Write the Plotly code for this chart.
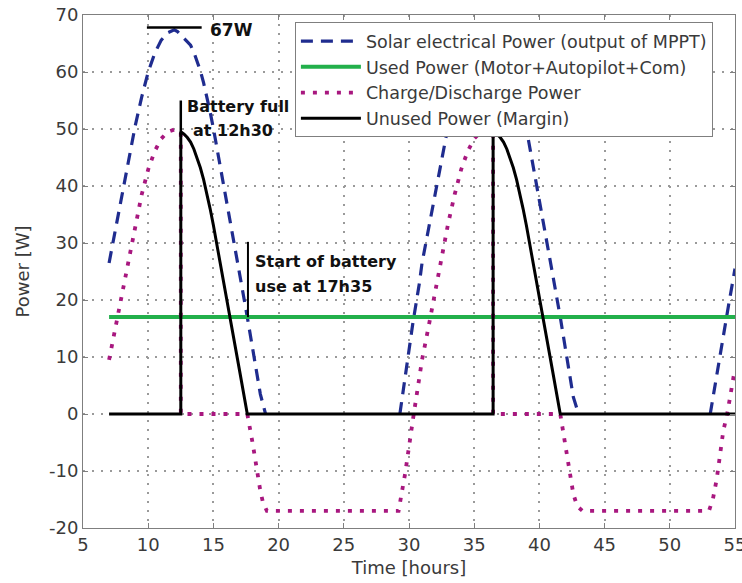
import plotly.graph_objects as go

# ---------------- data ----------------
t_solar = [7.0, 7.5, 8.0, 8.5, 9.0, 9.5, 10.0, 10.5, 11.0, 11.5, 12.0, 12.25, 12.5, 12.75, 13.0,
           13.25, 13.5, 13.75, 14.0, 14.25, 14.5, 14.75, 15.0, 15.25, 15.5, 16.0, 16.5, 17.0,
           17.6, 18.0, 18.3, 18.6, 19.0, None,
           29.3, 29.8, 30.3, 30.8, 31.0, 31.5, 32.0, 32.5, 33.0, 33.5, 34.0, 34.5, 35.0, 35.5,
           36.0, 36.25, 36.5, 36.75, 37.0, 37.25, 37.5, 37.75, 38.0, 38.25, 38.5, 38.75, 39.0,
           39.25, 39.5, 40.0, 40.5, 41.0, 41.6, 42.0, 42.3, 42.6, 43.0, None,
           53.1, 53.6, 54.1, 54.5, 55.0]
p_solar = [26.5, 32.5, 38.7, 44.8, 50.5, 55.6, 60, 63.3, 65.6, 66.9, 67.4, 67.1, 66.5, 66.1, 65.5,
           64.7, 63.5, 62.0, 60.2, 58.1, 55.7, 53.0, 50.1, 47.0, 43.9, 37.5, 31.1, 24.7,
           17, 11.8, 7.6, 3.5, 0, None,
           0, 8, 16, 23, 26.5, 32.5, 38.7, 44.8, 50.5, 55.6, 60, 63.3, 65.6, 66.9,
           67.4, 67.1, 66.5, 66.1, 65.5, 64.7, 63.5, 62.0, 60.2, 58.1, 55.7, 53.0, 50.1,
           47.0, 43.9, 37.5, 31.1, 24.7, 17, 11.5, 7, 3, 0, None,
           0, 7, 14, 19, 25.5]

t_used = [7.0, 55.0]
p_used = [17, 17]

t_charge = [7.0, 7.5, 8.0, 8.5, 9.0, 9.5, 10.0, 10.5, 11.0, 11.5, 12.0, 12.5, 12.5, 17.6, 18.0,
            18.3, 18.6, 18.8, 19.1, 29.2, 29.7, 30.3, 30.8, 31.0, 31.5, 32.0, 32.5, 33.0, 33.5,
            34.0, 34.5, 35.0, 35.5, 36.0, 36.45, 36.45, 41.6, 42.0, 42.3, 42.6, 42.9, 43.3,
            53.0, 53.3, 53.6, 54.1, 54.4, 54.6, 55.0]
p_charge = [9.5, 15.3, 21.5, 27.7, 33.4, 38.5, 42.9, 46.1, 48.3, 49.5, 49.9, 49.5, 0, 0, -5,
            -9.4, -13.5, -15.5, -17, -17, -10.5, -1, 6, 9.5, 15.3, 21.5, 27.7, 33.4, 38.5,
            42.9, 46.1, 48.3, 49.5, 49.9, 49.5, 0, 0, -5.5, -10, -14, -16.2, -17,
            -17, -15, -11.4, -3, 0, 3, 8]

t_unused = [7.0, 12.5, 12.5, 12.75, 13.0, 13.25, 13.5, 13.75, 14.0, 14.25, 14.5, 14.75, 15.0,
            15.25, 15.5, 16.0, 16.5, 17.0, 17.6,
            36.45, 36.45, 36.75, 37.0, 37.25, 37.5, 37.75, 38.0, 38.25, 38.5, 38.75, 39.0,
            39.25, 39.5, 40.0, 40.5, 41.0, 41.6, 55.0]
p_unused = [0, 0, 49.5, 49.1, 48.5, 47.7, 46.5, 45.0, 43.2, 41.1, 38.7, 36.0, 33.1,
            30.0, 26.9, 20.5, 14.1, 7.7, 0,
            0, 49.5, 49.1, 48.5, 47.7, 46.5, 45.0, 43.2, 41.1, 38.7, 36.0, 33.1,
            30.0, 26.9, 20.5, 14.1, 7.7, 0, 0]

series_names = ["Solar electrical Power (output of MPPT)",
                "Used Power (Motor+Autopilot+Com)",
                "Charge/Discharge Power",
                "Unused Power (Margin)"]

x_ticks = [5, 10, 15, 20, 25, 30, 35, 40, 45, 50, 55]
y_ticks = [-20, -10, 0, 10, 20, 30, 40, 50, 60, 70]

# annotation data
peak_label = "67W"
peak_value = 67.8
peak_line_t = [9.9, 14.1]
full_t = 12.5
full_line_p = [49, 55]
full_text = ["Battery full", "at 12h30"]
start_t = 17.65
start_line_p = [17, 30.2]
start_text = ["Start of battery", "use at 17h35"]

FONT = "DejaVu Sans"
TXT = "#3a3a3a"

fig = go.Figure()
fig.add_trace(go.Scatter(x=t_solar, y=p_solar, mode="lines", name=series_names[0],
                         line=dict(color="#1f2c8f", width=3.2, dash="12px,8px")))
fig.add_trace(go.Scatter(x=t_used, y=p_used, mode="lines", name=series_names[1],
                         line=dict(color="#22b04b", width=4)))
fig.add_trace(go.Scatter(x=t_charge, y=p_charge, mode="lines", name=series_names[2],
                         line=dict(color="#a8177f", width=3.8, dash="4px,8px")))
fig.add_trace(go.Scatter(x=t_unused, y=p_unused, mode="lines", name=series_names[3],
                         line=dict(color="black", width=3)))

# annotation lines
fig.add_trace(go.Scatter(x=peak_line_t, y=[peak_value, peak_value], mode="lines",
                         line=dict(color="black", width=2.5), showlegend=False, hoverinfo="skip"))
fig.add_trace(go.Scatter(x=[full_t, full_t], y=full_line_p, mode="lines",
                         line=dict(color="black", width=2.5), showlegend=False, hoverinfo="skip"))
fig.add_trace(go.Scatter(x=[start_t, start_t], y=start_line_p, mode="lines",
                         line=dict(color="black", width=2), showlegend=False, hoverinfo="skip"))

afont = dict(family=FONT, size=16, color="#111111")
fig.add_annotation(x=14.6, y=67.3, text="<b>%s</b>" % peak_label, showarrow=False,
                   xanchor="left", yanchor="middle", font=dict(family=FONT, size=17, color="#111111"))
fig.add_annotation(x=12.8, y=53.9, text="<b>%s</b>" % full_text[0], showarrow=False,
                   xanchor="left", yanchor="middle", font=afont)
fig.add_annotation(x=13.25, y=49.7, text="<b>%s</b>" % full_text[1], showarrow=False,
                   xanchor="left", yanchor="middle", font=afont)
fig.add_annotation(x=18.0, y=26.7, text="<b>%s</b>" % start_text[0], showarrow=False,
                   xanchor="left", yanchor="middle", font=afont)
fig.add_annotation(x=18.0, y=22.4, text="<b>%s</b>" % start_text[1], showarrow=False,
                   xanchor="left", yanchor="middle", font=afont)

axis_common = dict(showline=True, linecolor="#7f7f7f", linewidth=1, mirror="ticks",
                   ticks="inside", ticklen=5, tickcolor="#7f7f7f",
                   showgrid=True, gridcolor="#9a9a9a", griddash="2px,7px", gridwidth=1.5,
                   zeroline=False, ticklabeloverflow="allow",
                   tickfont=dict(family=FONT, size=18, color=TXT))

fig.update_xaxes(range=[5, 55], tickvals=x_ticks, ticktext=[str(v) for v in x_ticks],
                 title=dict(text="Time [hours]", font=dict(family=FONT, size=18, color=TXT),
                            standoff=7), **axis_common)
fig.update_yaxes(range=[-20, 70], tickvals=y_ticks, ticktext=[str(v) for v in y_ticks],
                 title=dict(text="Power [W]", font=dict(family=FONT, size=18, color=TXT),
                            standoff=14), **axis_common)

fig.update_layout(
    width=742, height=583,
    margin=dict(l=83, r=7, t=15, b=55, autoexpand=False),
    paper_bgcolor="white", plot_bgcolor="white",
    showlegend=True,
    legend=dict(x=0.325, y=0.986, xanchor="left", yanchor="top",
                bgcolor="white", bordercolor="#7f7f7f", borderwidth=1,
                font=dict(family=FONT, size=17.5, color=TXT),
                itemwidth=60, tracegroupgap=0),
)

fig.write_html("out.html")
